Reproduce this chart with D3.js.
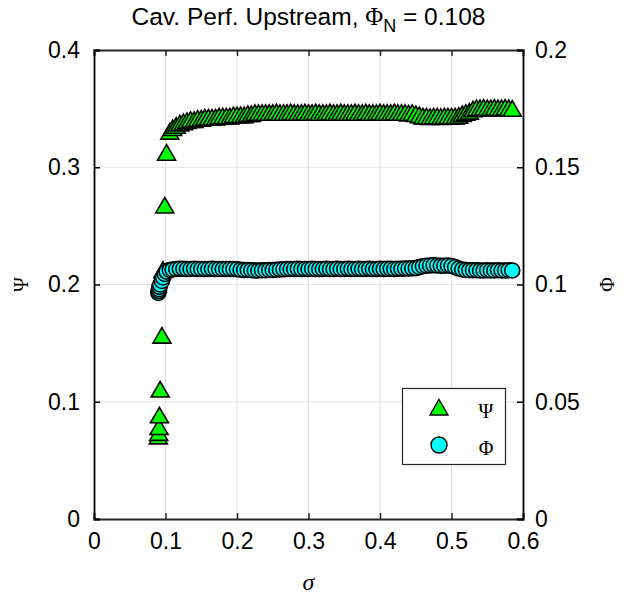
<!DOCTYPE html>
<html><head><meta charset="utf-8">
<script src="https://cdn.jsdelivr.net/npm/d3@7"></script>
<style>body{margin:0;background:#fff}svg{display:block}</style>
</head><body>
<script>
// ---- data ----
const sigma = [0.0900,0.0905,0.0910,0.0915,0.0925,0.0950,0.0965,0.0990,0.1015,0.1060,
 0.110,0.115,0.120,0.125,0.130,0.135,0.140,0.145,0.150,0.155,0.160,0.165,0.170,0.175,0.180,0.185,0.190,0.195,
 0.200,0.205,0.210,0.215,0.220,0.225,0.230,0.235,0.240,0.245,0.250,0.255,0.260,0.265,0.270,0.275,0.280,0.285,0.290,0.295,
 0.300,0.305,0.310,0.315,0.320,0.325,0.330,0.335,0.340,0.345,0.350,0.355,0.360,0.365,0.370,0.375,0.380,0.385,0.390,0.395,
 0.400,0.405,0.410,0.415,0.420,0.425,0.430,0.435,0.440,0.445,0.450,0.455,0.460,0.465,0.470,0.475,0.480,0.485,0.490,0.495,
 0.500,0.505,0.510,0.515,0.520,0.525,0.530,0.535,0.540,0.545,0.550,0.555,0.560,0.565,0.570,0.575,0.580,0.585];
const psi = [0.070,0.073,0.078,0.088,0.110,0.156,0.212,0.267,0.312,0.330,
 0.333,0.335,0.337,0.338,0.339,0.340,0.340,0.341,0.341,0.342,0.342,0.342,0.342,0.343,0.343,0.343,0.343,0.344,
 0.344,0.344,0.344,0.345,0.345,0.346,0.346,0.346,0.346,0.346,0.346,0.3465,0.346,0.346,0.346,0.3465,0.346,0.346,0.346,0.3465,
 0.346,0.346,0.3465,0.346,0.346,0.346,0.3465,0.346,0.346,0.3465,0.346,0.346,0.346,0.3465,0.346,0.346,0.3465,0.346,0.346,0.346,
 0.3465,0.346,0.346,0.346,0.3465,0.346,0.346,0.346,0.3455,0.346,0.345,0.344,0.343,0.343,0.3425,0.343,0.343,0.3425,0.343,0.343,
 0.343,0.343,0.3435,0.345,0.346,0.347,0.349,0.350,0.350,0.3505,0.350,0.350,0.3505,0.350,0.350,0.3505,0.350,0.3495];
const phi = [0.0964,0.0972,0.0980,0.0990,0.1000,0.1015,0.1030,0.1045,0.1055,0.1062,
 0.1064,0.1066,0.1067,0.1067,0.1066,0.1066,0.1067,0.1066,0.1066,0.1066,0.1066,0.1067,0.1066,0.1066,0.1066,0.1066,0.1066,0.1066,
 0.1065,0.1063,0.1062,0.1062,0.1061,0.1060,0.1060,0.1061,0.1061,0.1062,0.1062,0.1063,0.1064,0.1065,0.1066,0.1066,0.1066,0.1067,0.1066,0.1066,
 0.1066,0.1067,0.1066,0.1066,0.1066,0.1067,0.1066,0.1066,0.1067,0.1066,0.1066,0.1067,0.1066,0.1066,0.1067,0.1066,0.1066,0.1067,0.1066,0.1066,
 0.1067,0.1066,0.1067,0.1067,0.1066,0.1067,0.1067,0.1068,0.1068,0.1069,0.1070,0.1074,0.1078,0.1080,0.1081,0.1082,0.1081,0.1080,0.1080,0.1081,
 0.1079,0.1074,0.1068,0.1064,0.1062,0.1061,0.1061,0.1061,0.1060,0.1060,0.1061,0.1060,0.1060,0.1061,0.1060,0.1060,0.1061,0.1060];
const xTicks = [0,0.1,0.2,0.3,0.4,0.5,0.6];
const yLeftTicks = [0,0.1,0.2,0.3,0.4];
const yRightTicks = [0,0.05,0.1,0.15,0.2];
const legendLabels = ["\u03A8","\u03A6"];

// ---- layout ----
const W = 634, H = 596;
const L = 94, R = 523, T = 50, B = 519;
const svg = d3.select("body").append("svg").attr("width", W).attr("height", H);
const x = d3.scaleLinear().domain([0,0.6]).range([L,R]);
const yL = d3.scaleLinear().domain([0,0.4]).range([B,T]);
const yR = d3.scaleLinear().domain([0,0.2]).range([B,T]);
const sans = "'Liberation Sans', Arial, Helvetica, sans-serif";
const serif = "'Liberation Serif', 'DejaVu Serif', serif";

// grid
const g = svg.append("g");
g.selectAll("line.gx").data(xTicks.slice(1,-1)).join("line")
 .attr("x1", d=>x(d)).attr("x2", d=>x(d)).attr("y1", T).attr("y2", B)
 .attr("stroke", "#e3e3e3").attr("stroke-width", 1);
g.selectAll("line.gy").data(yLeftTicks.slice(1,-1)).join("line")
 .attr("y1", d=>yL(d)).attr("y2", d=>yL(d)).attr("x1", L).attr("x2", R)
 .attr("stroke", "#e3e3e3").attr("stroke-width", 1);

// data
const pts = sigma.map((s,i)=>({s, psi: psi[i], phi: phi[i]}));
const tri = "M0,-8.5L9,7L-9,7Z";
svg.append("g").selectAll("path").data(pts).join("path")
 .attr("d", tri).attr("transform", d=>`translate(${x(d.s)},${yL(d.psi)})`)
 .attr("fill", "#00ff00").attr("stroke", "#000").attr("stroke-width", 1.6);
svg.append("g").selectAll("circle").data(pts).join("circle")
 .attr("cx", d=>x(d.s)).attr("cy", d=>yR(d.phi)).attr("r", 7.5)
 .attr("fill", "#00ffff").attr("stroke", "#000").attr("stroke-width", 1.6);

// axes
const axB = d3.axisBottom(x).tickValues(xTicks).tickSize(-6).tickPadding(14).tickFormat(d3.format("~g"));
const axT = d3.axisTop(x).tickValues(xTicks).tickSize(-6).tickFormat("");
const axL = d3.axisLeft(yL).tickValues(yLeftTicks).tickSize(-6).tickPadding(14).tickFormat(d3.format("~g"));
const axR = d3.axisRight(yR).tickValues(yRightTicks).tickSize(-6).tickPadding(12).tickFormat(d3.format("~g"));
function style(sel, col){
  sel.select(".domain").attr("stroke", col).attr("stroke-width", 1.8);
  sel.selectAll(".tick line").attr("stroke", col).attr("stroke-width", 1.5);
  sel.selectAll("text").attr("font-family", sans).attr("font-size", 23).attr("fill", "#000");
}
style(svg.append("g").attr("transform", `translate(0,${B})`).call(axB), "#262626");
style(svg.append("g").attr("transform", `translate(0,${T})`).call(axT), "#262626");
style(svg.append("g").attr("transform", `translate(${L},0)`).call(axL), "#000");
style(svg.append("g").attr("transform", `translate(${R},0)`).call(axR), "#000");

// title
const title = svg.append("text").attr("x", (L+R)/2).attr("y", 25).attr("text-anchor","middle")
 .attr("font-family", sans).attr("font-size", 24.5).attr("fill","#000");
title.append("tspan").text("Cav. Perf. Upstream, ");
title.append("tspan").attr("font-family", serif).text("\u03A6");
title.append("tspan").attr("font-size", 18).attr("dy", 7).text("N");
title.append("tspan").attr("dy", -7).text(" = 0.108");

// axis labels
svg.append("text").attr("transform", `translate(28,${(T+B)/2}) rotate(-90)`).attr("text-anchor","middle")
 .attr("font-family", serif).attr("font-size", 20).text("\u03A8");
svg.append("text").attr("transform", `translate(614,${(T+B)/2}) rotate(-90)`).attr("text-anchor","middle")
 .attr("font-family", serif).attr("font-size", 20).text("\u03A6");
svg.append("text").attr("x", (L+R)/2).attr("y", 590).attr("text-anchor","middle")
 .attr("font-family", serif).attr("font-style","italic").attr("font-size", 24).text("\u03C3");

// legend
const lg = svg.append("g");
lg.append("rect").attr("x", 402.5).attr("y", 388.5).attr("width", 103).attr("height", 76)
 .attr("fill", "#fff").attr("stroke", "#262626").attr("stroke-width", 1.2);
lg.append("path").attr("d", tri).attr("transform", "translate(439,408)")
 .attr("fill", "#00ff00").attr("stroke", "#000").attr("stroke-width", 1.4);
lg.append("circle").attr("cx", 439).attr("cy", 445).attr("r", 8)
 .attr("fill", "#00ffff").attr("stroke", "#000").attr("stroke-width", 1.4);
lg.selectAll("text").data(legendLabels).join("text")
 .attr("x", 486).attr("y", (d,i)=> i===0 ? 418 : 455).attr("text-anchor","middle")
 .attr("font-family", serif).attr("font-size", 20).text(d=>d);
</script>
</body></html>
